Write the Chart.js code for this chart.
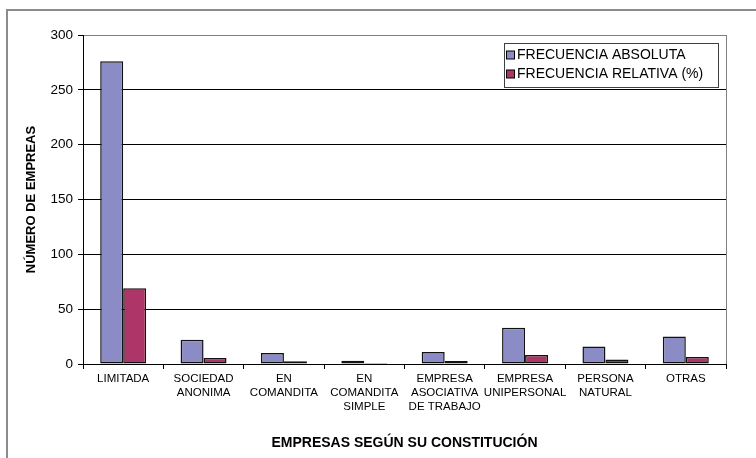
<!DOCTYPE html>
<html>
<head>
<meta charset="utf-8">
<script src="https://cdn.jsdelivr.net/npm/chart.js@4/dist/chart.umd.min.js"></script>
<style>
  html, body { margin: 0; padding: 0; background: #ffffff; }
  #wrap { width: 756px; height: 458px; }
</style>
</head>
<body>
<div id="wrap"><canvas id="c" width="756" height="458"></canvas></div>
<script>
// Tipos de constitución de las empresas (etiquetas en varias líneas)
const categorias = [
  ["LIMITADA"],
  ["SOCIEDAD", "ANONIMA"],
  ["EN", "COMANDITA"],
  ["EN", "COMANDITA", "SIMPLE"],
  ["EMPRESA", "ASOCIATIVA", "DE TRABAJO"],
  ["EMPRESA", "UNIPERSONAL"],
  ["PERSONA", "NATURAL"],
  ["OTRAS"]
];
const frecuenciaAbsoluta = [276, 22, 10, 3, 11, 33, 16, 25];
const frecuenciaRelativa = [69, 5.5, 2.5, 0.8, 2.8, 8.3, 4, 6.3];
const ticksY = [0, 50, 100, 150, 200, 250, 300];

const nombresSeries = ["FRECUENCIA ABSOLUTA", "FRECUENCIA RELATIVA (%)"];
const coloresSeries = ["#8b8bc6", "#ae3568"];
const FUENTE = "'Liberation Sans', Arial, sans-serif";

// Marco exterior, borde del área de trazado y leyenda
const marcoYLeyenda = {
  id: 'marcoYLeyenda',
  afterDraw(chart) {
    const ctx = chart.ctx;
    const a = chart.chartArea;
    ctx.save();
    // marco exterior del gráfico
    ctx.strokeStyle = '#8c8c8c';
    ctx.lineWidth = 2;
    ctx.beginPath();
    ctx.moveTo(7, 470);
    ctx.lineTo(7, 10);
    ctx.lineTo(770, 10);
    ctx.stroke();
    // borde derecho del área de trazado
    ctx.strokeStyle = '#808080';
    ctx.lineWidth = 1;
    ctx.beginPath();
    ctx.moveTo(Math.round(a.right) + 0.5, a.top);
    ctx.lineTo(Math.round(a.right) + 0.5, a.bottom);
    ctx.stroke();

    // leyenda
    const lx = 504.5, ly = 43.5, lw = 214, lh = 44;
    ctx.fillStyle = '#ffffff';
    ctx.fillRect(lx, ly, lw, lh);
    ctx.strokeStyle = '#404040';
    ctx.strokeRect(lx, ly, lw, lh);
    ctx.font = '14px ' + FUENTE;
    ctx.textBaseline = 'middle';
    ctx.textAlign = 'left';
    nombresSeries.forEach((nombre, i) => {
      const cy = 55 + i * 19;
      ctx.fillStyle = coloresSeries[i];
      ctx.fillRect(506.5, cy - 4, 8, 8);
      ctx.strokeStyle = '#000000';
      ctx.strokeRect(506.5, cy - 4, 8, 8);
      ctx.fillStyle = '#000000';
      ctx.fillText(nombre, 517, cy + 0.5);
    });
    ctx.restore();
  }
};

const estiloBarra = {
  borderColor: '#111111',
  borderWidth: 1.5,
  borderSkipped: false,
  categoryPercentage: 0.572,
  barPercentage: 1.0
};

new Chart(document.getElementById('c'), {
  type: 'bar',
  data: {
    labels: categorias,
    datasets: [
      Object.assign({
        label: nombresSeries[0],
        data: frecuenciaAbsoluta,
        backgroundColor: coloresSeries[0]
      }, estiloBarra),
      Object.assign({
        label: nombresSeries[1],
        data: frecuenciaRelativa,
        backgroundColor: coloresSeries[1]
      }, estiloBarra)
    ]
  },
  options: {
    responsive: false,
    animation: false,
    devicePixelRatio: 1,
    layout: { padding: { left: 0, top: 35, right: 30, bottom: 0 } },
    plugins: {
      legend: { display: false },
      tooltip: { enabled: false },
      title: { display: false }
    },
    scales: {
      x: {
        afterFit(scale) { scale.height = 94; },
        grid: {
          drawOnChartArea: false,
          offset: true,
          color: '#000000',
          tickColor: '#000000',
          tickLength: 5
        },
        border: { color: '#000000', width: 1 },
        ticks: {
          autoSkip: false,
          maxRotation: 0,
          minRotation: 0,
          padding: 3,
          color: '#000000',
          font: { family: FUENTE, size: 11.5 }
        },
        title: {
          display: true,
          text: 'EMPRESAS SEGÚN SU CONSTITUCIÓN',
          color: '#000000',
          font: { family: FUENTE, size: 14, weight: 'bold' },
          padding: { top: 0, bottom: 6 }
        }
      },
      y: {
        min: 0,
        max: 300,
        afterFit(scale) { scale.width = 83; },
        afterBuildTicks(scale) { scale.ticks = ticksY.map(v => ({ value: v })); },
        grid: {
          color: (c) => (c.tick && c.tick.value === 300 ? '#808080' : '#000000'),
          tickColor: '#000000',
          tickLength: 5
        },
        border: { color: '#000000', width: 1 },
        ticks: {
          padding: 5,
          color: '#000000',
          font: { family: FUENTE, size: 13.5 }
        },
        title: {
          display: true,
          text: 'NÚMERO DE EMPREAS',
          color: '#000000',
          font: { family: FUENTE, size: 13, weight: 'bold' },
          padding: { top: 24, bottom: 0 }
        }
      }
    }
  },
  plugins: [marcoYLeyenda]
});
</script>
</body>
</html>
